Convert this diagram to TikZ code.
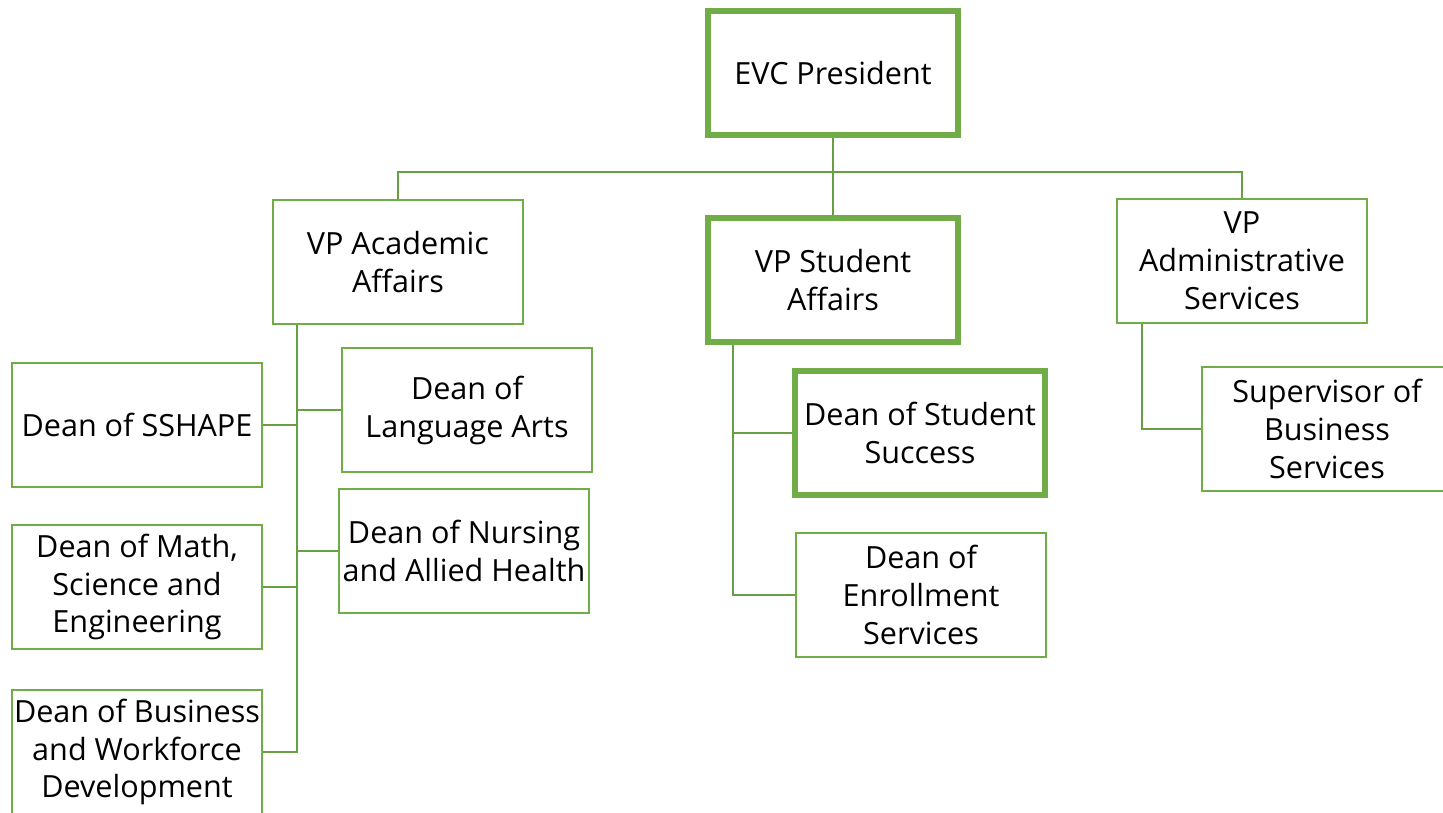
\documentclass[tikz,border=0pt]{standalone}
\usepackage{fontspec}
\setmainfont{Open Sans}
\usetikzlibrary{positioning}

\definecolor{boxgreen}{HTML}{70AD47}
\definecolor{linkgreen}{HTML}{66A043}

\begin{document}
\begin{tikzpicture}[x=0.02cm, y=-0.02cm,
    post/.style={draw=boxgreen, line width=1.4pt, fill=white, align=center,
      minimum width=5.0cm, minimum height=2.48cm, inner xsep=0pt, inner ysep=2pt,
      font=\fontsize{17.4}{21.6}\selectfont},
    keypost/.style={post, line width=3.4pt},
    link/.style={draw=linkgreen, line width=1.3pt}]
          \useasboundingbox (0,0) rectangle (1443,812);

          % top of the tree
          \node[keypost] (evc) at (833,73) {EVC President};
          \node[post] (vpaa) at (398,262) {VP Academic\\Affairs};
          \node[keypost] (vpsa) at (833,280) {VP Student\\Affairs};
          \node[post] (vpas) at (1242,261) {VP\\Administrative\\Services};

          \draw[link] (evc.south) -- (vpsa.north);
          \draw[link] (vpaa.north) -- ++(0,-27) -| (vpas.north);

          % academic affairs deans
          \node[post] (sshape) at (137,425) {Dean of SSHAPE};
          \node[post] (langarts) at (467,410) {Dean of\\Language Arts};
          \node[post] (nursing) at (464,551) {Dean of Nursing\\and Allied Health};
          \node[post] (math) at (137,587) {Dean of Math,\\Science and\\Engineering};
          \node[post] (business) at (137,752) {Dean of Business\\and Workforce\\Development};

          \coordinate (aa) at ([xshift=0.5cm]vpaa.south west);
          \draw[link] (aa) |- (business.east);
          \draw[link] (sshape.east) -- (sshape.east -| aa);
          \draw[link] (math.east) -- (math.east -| aa);
          \draw[link] (langarts.west) -- (langarts.west -| aa);
          \draw[link] (nursing.west) -- (nursing.west -| aa);

          % student affairs deans
          \node[keypost] (success) at (920,433) {Dean of Student\\Success};
          \node[post] (enroll) at (921,595) {Dean of\\Enrollment\\Services};

          \coordinate (sa) at ([xshift=0.56cm]vpsa.south west);
          \draw[link] (sa) |- (enroll.west);
          \draw[link] (success.west) -- (success.west -| sa);

          % administrative services
          \node[post] (bizserv) at (1327,429) {Supervisor of\\Business\\Services};

          \coordinate (as) at ([xshift=0.52cm]vpas.south west);
          \draw[link] (as) |- (bizserv.west);
        \end{tikzpicture}
\end{document}
